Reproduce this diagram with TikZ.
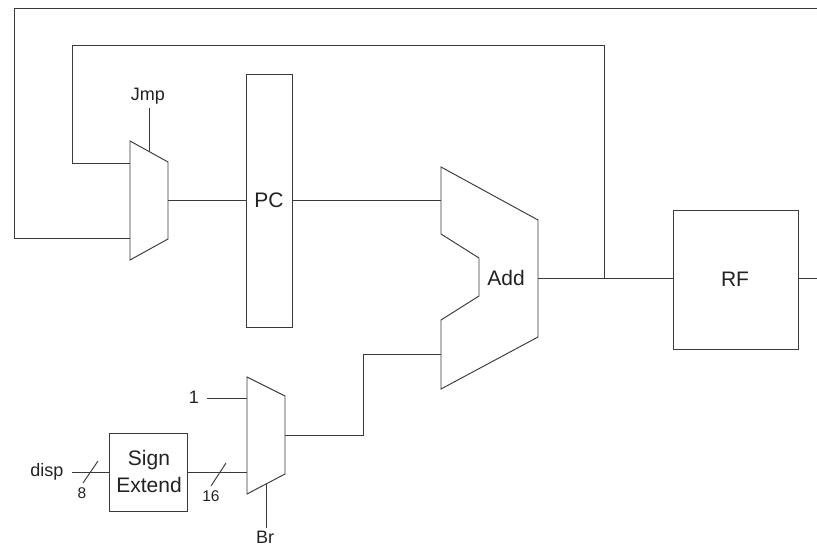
\documentclass[tikz,border=0pt]{standalone}
\usepackage{fontspec}
\setmainfont{Liberation Sans}
\definecolor{ink}{HTML}{3A3A3A}
\definecolor{txt}{HTML}{222222}
\tikzset{
  wire/.style={draw=ink,line width=0.95pt},
  block/.style={draw=ink,line width=0.95pt,fill=white},
  lbl/.style={inner sep=0pt,font=\fontsize{#1}{#1}\selectfont,text=txt},
  lbl/.default=18
}
\begin{document}
\begin{tikzpicture}[x=1pt,y=-1pt,line join=miter]
\useasboundingbox (0,0) rectangle (817,546);
% junction / helper coordinates
\coordinate (j) at (604,278);
\coordinate (topR) at (817,8);
\coordinate (topL) at (14,8);
\coordinate (botL) at (14,238);
\coordinate (fbTR) at (604,45);
\coordinate (fbTL) at (72,45);
\coordinate (fbBL) at (72,163);
\coordinate (m1in1) at (130,163);
\coordinate (m1in2) at (130,238);
\coordinate (m1top) at (149,152);
\coordinate (m1out) at (168,200);
\coordinate (jmpEnd) at (149,108);
\coordinate (addIn1) at (441,200);
\coordinate (addIn2) at (441,354);
\coordinate (addOut) at (538,278);
\coordinate (m2in1) at (247,398);
\coordinate (m2in2) at (247,472);
\coordinate (m2out) at (285,435);
\coordinate (m2bot) at (266,484);
\coordinate (brEnd) at (266,528);
\coordinate (rfOut) at (817,278);
\coordinate (s8a) at (83,483);
\coordinate (s8b) at (98,461);
\coordinate (s16a) at (211,486);
\coordinate (s16b) at (226,463);
\coordinate (dispStart) at (72,472);
\coordinate (oneStart) at (207,398);
% shapes
\draw[block] (130,141) -- (168,162) -- (168,239) -- (130,260) -- cycle;
\draw[block] (247,377) -- (285,396) -- (285,474) -- (247,494) -- cycle;
\draw[block] (441,167) -- (538,220) -- (538,337) -- (441,389) -- (441,320) -- (479,296) -- (479,258) -- (441,234) -- cycle;
\node[block,minimum width=46pt,minimum height=253pt,inner sep=0pt] (pc) at (269.5,200.5) {};
\node[block,minimum width=125pt,minimum height=139pt,inner sep=0pt] (rf) at (735.5,279.5) {};
\node[block,minimum width=78pt,minimum height=78pt,inner sep=0pt] (se) at (148.5,472.5) {};
% wires
\draw[wire] (topR) -- (topL) -- (botL) -- (m1in2);
\draw[wire] (j) -- (fbTR) -- (fbTL) -- (fbBL) -- (m1in1);
\draw[wire] (m1top) -- (jmpEnd);
\draw[wire] (m1out) -- (pc.west |- m1out);
\draw[wire] (pc.east |- addIn1) -- (addIn1);
\draw[wire] (addOut) -- (rf.west |- addOut);
\draw[wire] (rf.east |- rfOut) -- (rfOut);
\draw[wire] (m2out) -- (363,435) -- (363,354) -- (addIn2);
\draw[wire] (m2bot) -- (brEnd);
\draw[wire] (oneStart) -- (m2in1);
\draw[wire] (se.east |- m2in2) -- (m2in2);
\draw[wire] (dispStart) -- (se.west |- dispStart);
\draw[wire] (s8a) -- (s8b);
\draw[wire] (s16a) -- (s16b);
% labels
\node[lbl=18] (tJmp) at (148,96) {Jmp};
\node[lbl=21] (tPC) at (269,200) {PC};
\node[lbl=21] (tAdd) at (506,278) {Add};
\node[lbl=21] (tRF) at (735,279) {RF};
\node[lbl=18] (t1) at (194,397) {1};
\node[lbl=18] (tdisp) at (47,472) {disp};
\node[lbl=15.5] (t8) at (82,493) {8};
\node[lbl=15.5] (t16) at (211,496) {16};
\node[lbl=18] (tBr) at (265,537) {Br};
\node[lbl=21] (tSign) at (149,460) {Sign};
\node[lbl=21] (tExtend) at (149,485) {Extend};
\end{tikzpicture}
\end{document}
